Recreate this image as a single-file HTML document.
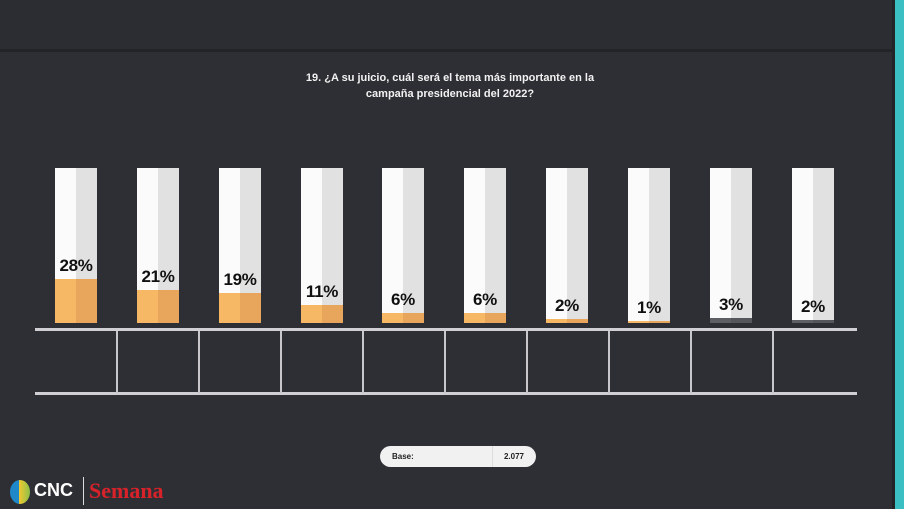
<!DOCTYPE html>
<html><head><meta charset="utf-8"><style>
*{margin:0;padding:0;box-sizing:border-box}
body{width:904px;height:509px;background:#2e2f34;position:relative;overflow:hidden;font-family:"Liberation Sans",sans-serif}
.a{position:absolute}
.bar{position:absolute;top:168px;width:42px;height:155px;background:linear-gradient(90deg,#fbfbfb 0,#fbfbfb 50%,#e1e1e1 50%,#e1e1e1 100%)}
.fill{position:absolute;left:0;right:0;bottom:0;background:linear-gradient(90deg,#f6b865 0,#f6b865 50%,#e7a65c 50%,#e7a65c 100%)}
.g{background:linear-gradient(90deg,#5e5f64 0,#5e5f64 50%,#55565b 50%,#55565b 100%)}
.lbl{position:absolute;left:-10px;right:-10px;text-align:center;font-size:17px;color:#111;font-weight:bold;letter-spacing:-0.3px}
.v{position:absolute;top:331px;width:2px;height:62px;background:#c8c8cc}
</style></head><body>
<div class="a" style="left:0;top:0;width:893px;height:49px;background:#2c2d32"></div>
<div class="a" style="left:0;top:49px;width:893px;height:3px;background:#232428"></div>
<div class="a" style="left:892px;top:0;width:3px;height:509px;background:#232428"></div>
<div class="a" style="left:895px;top:0;width:9px;height:509px;background:#3bbfc3"></div>
<div class="a" style="left:250px;top:70px;width:400px;text-align:center;color:#f2f2f2;font-size:11px;font-weight:bold;line-height:16px">19. ¿A su juicio, cuál será el tema más importante en la<br>campaña presidencial del 2022?</div>

<div class="bar" style="left:55px"><div class="fill" style="height:44px"></div><div class="lbl" style="bottom:47px">28%</div></div>
<div class="bar" style="left:137px"><div class="fill" style="height:33px"></div><div class="lbl" style="bottom:36px">21%</div></div>
<div class="bar" style="left:219px"><div class="fill" style="height:30px"></div><div class="lbl" style="bottom:33px">19%</div></div>
<div class="bar" style="left:301px"><div class="fill" style="height:18px"></div><div class="lbl" style="bottom:21px">11%</div></div>
<div class="bar" style="left:382px"><div class="fill" style="height:10px"></div><div class="lbl" style="bottom:13px">6%</div></div>
<div class="bar" style="left:464px"><div class="fill" style="height:10px"></div><div class="lbl" style="bottom:13px">6%</div></div>
<div class="bar" style="left:546px"><div class="fill" style="height:4px"></div><div class="lbl" style="bottom:7px">2%</div></div>
<div class="bar" style="left:628px"><div class="fill" style="height:2px"></div><div class="lbl" style="bottom:5px">1%</div></div>
<div class="bar" style="left:710px"><div class="fill g" style="height:5px"></div><div class="lbl" style="bottom:8px">3%</div></div>
<div class="bar" style="left:792px"><div class="fill g" style="height:3px"></div><div class="lbl" style="bottom:6px">2%</div></div>

<div class="a" style="left:35px;top:328px;width:822px;height:3px;background:#d0d0d4"></div>
<div class="a" style="left:35px;top:392px;width:822px;height:3px;background:#d0d0d4"></div>
<div class="v" style="left:116px"></div><div class="v" style="left:198px"></div><div class="v" style="left:280px"></div>
<div class="v" style="left:362px"></div><div class="v" style="left:444px"></div><div class="v" style="left:526px"></div>
<div class="v" style="left:608px"></div><div class="v" style="left:690px"></div><div class="v" style="left:772px"></div>

<div class="a" style="left:380px;top:446px;width:156px;height:21px;border-radius:11px;background:#f1f1f1;font-size:8px;font-weight:bold;color:#222">
<span class="a" style="left:12px;top:6px">Base:</span>
<div class="a" style="left:112px;top:0;width:1px;height:21px;background:#ddd"></div>
<span class="a" style="right:12px;top:6px">2.077</span></div>

<div class="a" style="left:10px;top:480px;width:20px;height:24px;border-radius:50%;background:linear-gradient(90deg,#1e88c8 0,#1e88c8 45%,#f2c830 45%,#8cc04a 100%)"></div>
<div class="a" style="left:34px;top:480px;color:#fff;font-size:18px;font-weight:bold">CNC</div>
<div class="a" style="left:83px;top:477px;width:1px;height:28px;background:#ddd"></div>
<div class="a" style="left:89px;top:478px;color:#d8222a;font-family:'Liberation Serif',serif;font-size:22px;font-weight:bold">Semana</div>
</body></html>
